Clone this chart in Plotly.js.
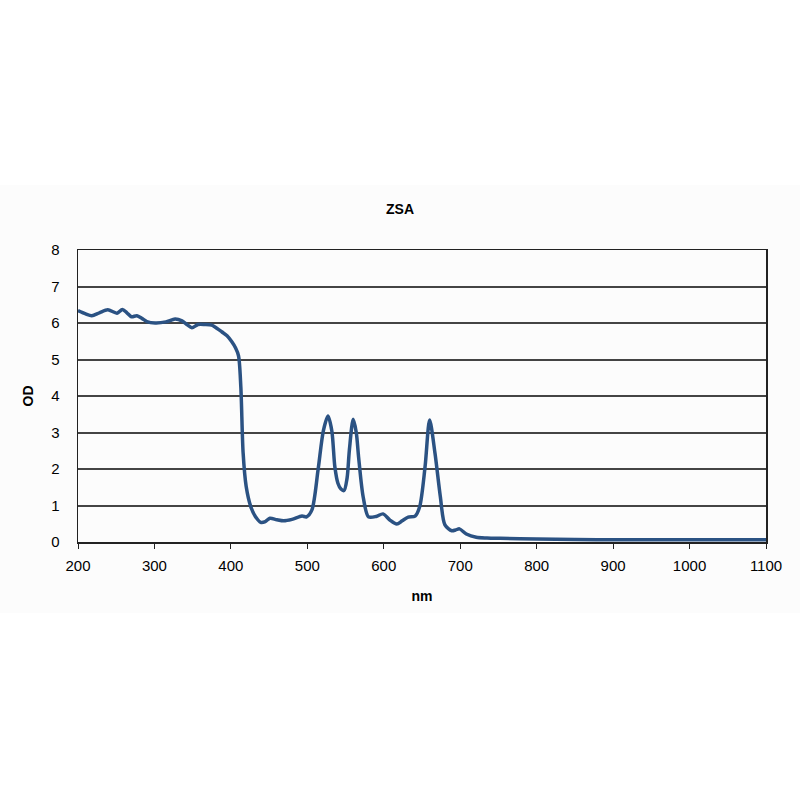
<!DOCTYPE html>
<html>
<head>
<meta charset="utf-8">
<script src="https://cdn.plot.ly/plotly-3.0.1.min.js"></script>
<style>html,body{margin:0;padding:0;background:#fff;}#chart{width:800px;height:800px;}</style>
</head>
<body>
<div id="chart"></div>
<script>
const wavelength = [200, 210, 218, 228, 239, 251, 258, 264, 270, 277, 284, 290, 301, 315, 327, 336, 343, 349, 357, 366, 375, 382, 388, 395, 401, 406, 410, 413, 416, 420, 426, 432, 439, 445, 451, 460, 469, 480, 493, 499, 506, 514, 521, 527, 532, 536, 540, 544, 548, 552, 555, 560, 564, 567, 573, 580, 590, 599, 608, 617, 624, 632, 641, 647, 654, 660, 667, 674, 680, 689, 694, 699, 708, 721, 735, 752, 800, 850, 900, 1000, 1100];
const od = [6.34, 6.25, 6.20, 6.28, 6.36, 6.27, 6.37, 6.28, 6.17, 6.20, 6.12, 6.04, 6.00, 6.03, 6.11, 6.06, 5.95, 5.87, 5.96, 5.96, 5.94, 5.85, 5.76, 5.65, 5.49, 5.32, 5.10, 4.25, 2.44, 1.52, 0.97, 0.70, 0.54, 0.56, 0.65, 0.61, 0.58, 0.62, 0.71, 0.69, 0.88, 1.97, 3.05, 3.45, 3.05, 2.06, 1.61, 1.45, 1.41, 1.75, 2.52, 3.36, 3.00, 2.34, 1.24, 0.69, 0.70, 0.77, 0.60, 0.49, 0.58, 0.68, 0.71, 0.97, 2.06, 3.34, 2.43, 1.24, 0.47, 0.31, 0.33, 0.36, 0.22, 0.13, 0.11, 0.10, 0.08, 0.07, 0.06, 0.06, 0.06];
const xTicks = [200, 300, 400, 500, 600, 700, 800, 900, 1000, 1100];
const yTicks = [0, 1, 2, 3, 4, 5, 6, 7, 8];

const trace = {
  x: wavelength, y: od, type: 'scatter', mode: 'lines',
  line: {color: '#2b5283', width: 3.5, shape: 'spline', smoothing: 0.8},
  hoverinfo: 'x+y'
};

const layout = {
  width: 800, height: 800,
  margin: {l: 78, r: 34, t: 250, b: 258},
  paper_bgcolor: '#ffffff',
  plot_bgcolor: 'rgba(0,0,0,0)',
  showlegend: false,
  font: {family: 'Liberation Sans, Arial, sans-serif', color: '#000', size: 15},
  title: {text: '<b>ZSA</b>', x: 0.5, xanchor: 'center', y: 1 - 209/800, yanchor: 'middle', font: {size: 14, color: '#000'}},
  xaxis: {
    range: [200, 1100], tickvals: xTicks, ticktext: xTicks.map(String),
    showgrid: false, zeroline: false,
    showline: true, linecolor: '#222', linewidth: 1.5, mirror: true,
    ticks: 'outside', ticklen: 5, tickcolor: '#222', tickwidth: 1,
    ticklabelstandoff: 4,
    tickfont: {size: 15, color: '#000'},
    title: {text: '<b>nm</b>', font: {size: 14, color: '#000'}, standoff: 18}
  },
  yaxis: {
    range: [0, 8], tickvals: yTicks, ticktext: yTicks.map(String),
    showgrid: true, gridcolor: '#444444', gridwidth: 2, zeroline: false,
    showline: true, linecolor: '#222', linewidth: 1.5, mirror: true,
    ticks: '', ticklabelstandoff: 14, tickfont: {size: 15, color: '#000'},
    title: {text: '<b>OD</b>', font: {size: 14, color: '#000'}, standoff: 14}
  },
  shapes: [{
    type: 'rect', xref: 'paper', yref: 'paper', layer: 'below',
    x0: -78/688, x1: (800-78)/688, y0: (542-613)/292, y1: (542-185)/292,
    fillcolor: '#fcfcfc', line: {width: 0}
  }]
};

Plotly.newPlot('chart', [trace], layout, {displayModeBar: false, staticPlot: true});
</script>
</body>
</html>
